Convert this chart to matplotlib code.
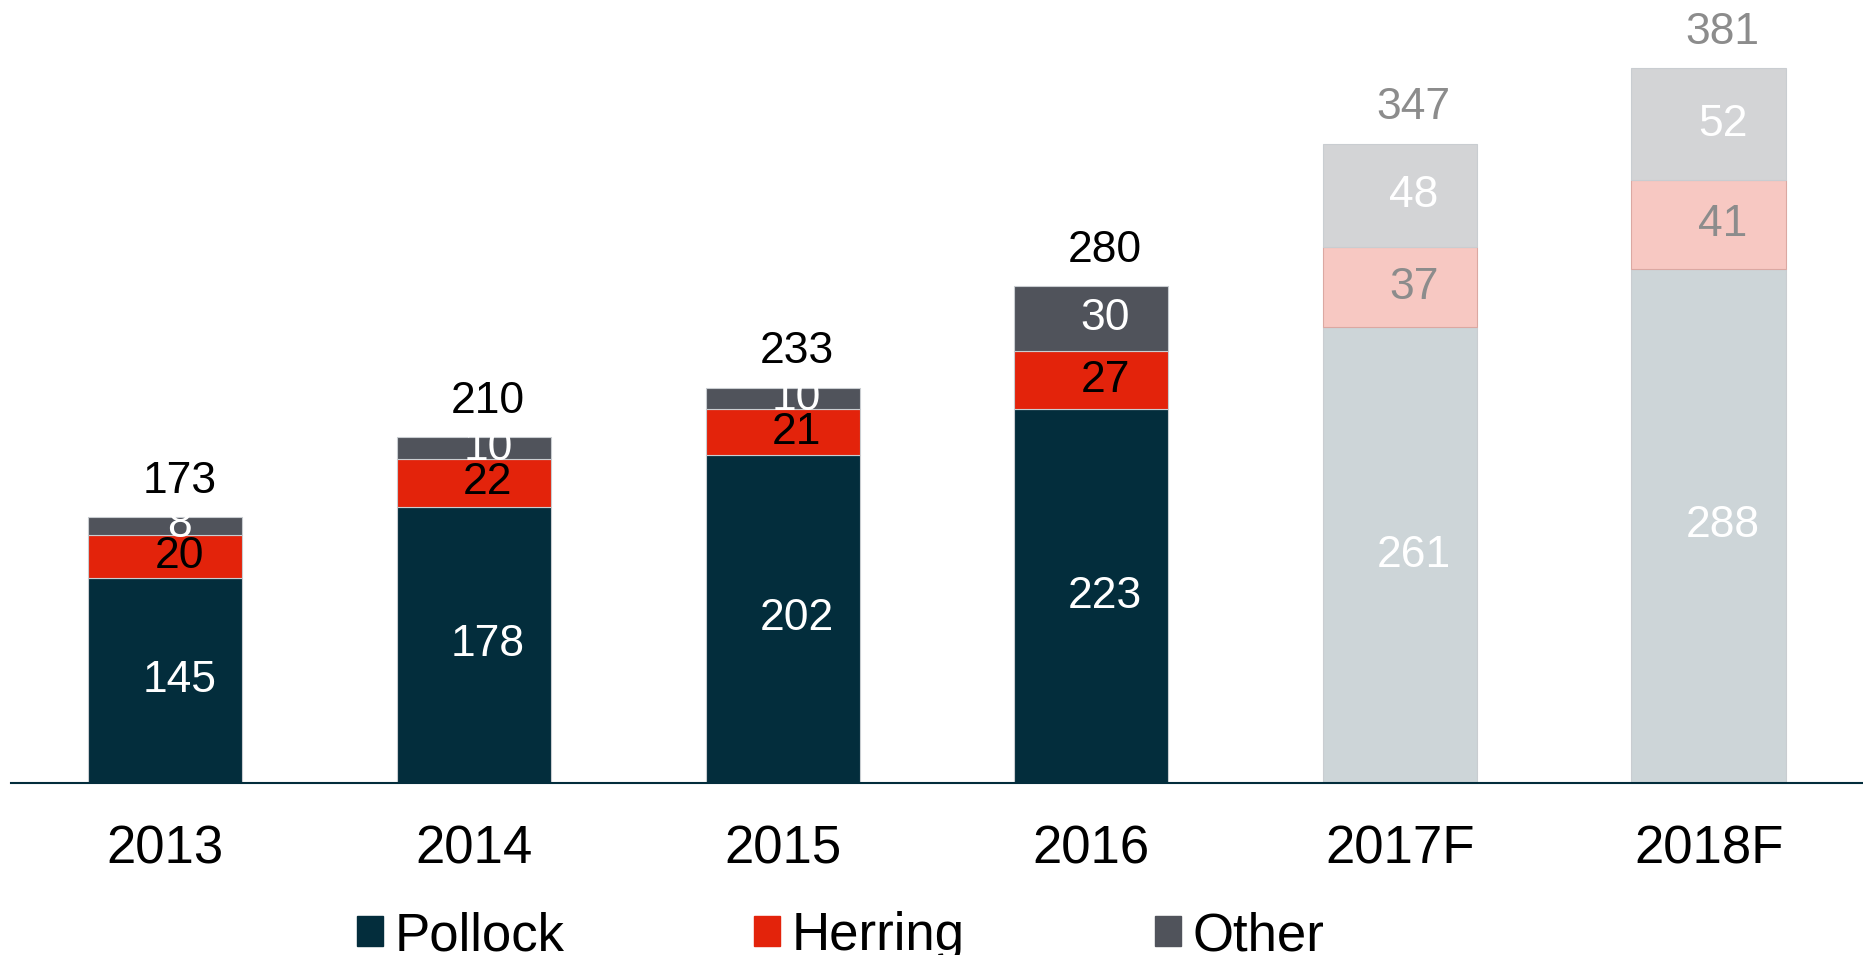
import matplotlib.pyplot as plt
from matplotlib.patches import Patch

plt.rcParams['font.family'] = ['Liberation Sans', 'DejaVu Sans']

YEARS = ['2013', '2014', '2015', '2016', '2017F', '2018F']
POLLOCK = [145, 178, 202, 223, 261, 288]
HERRING = [20, 22, 21, 27, 37, 41]
OTHER = [8, 10, 10, 30, 48, 52]
TOTALS = [173, 210, 233, 280, 347, 381]
FORECAST = [False, False, False, False, True, True]

# actual / forecast colours
POLLOCK_COL = ('#032d3c', '#cdd5d8')
HERRING_COL = ('#e3230b', '#f7c8c2')
OTHER_COL = ('#50535b', '#d3d4d6')
EDGE_COL = ('#c9cdd1', '#dba8a2')
GREY_TXT = '#8c8c8c'

Y_MIN = 50  # value axis does not start at zero in the original


def main():
    fig = plt.figure(figsize=(18.63, 9.55), dpi=100)
    ax = fig.add_axes([11 / 1863, 1 - 783 / 955, 1 - 11 / 1863, 783 / 955])

    x = list(range(len(YEARS)))
    bottom_h = [p + h for p, h in zip(POLLOCK, HERRING)]
    for i in x:
        f = 1 if FORECAST[i] else 0
        ax.bar(i, POLLOCK[i], 0.5, color=POLLOCK_COL[f], edgecolor=EDGE_COL[0], linewidth=0.8)
        ax.bar(i, HERRING[i], 0.5, bottom=POLLOCK[i], color=HERRING_COL[f],
               edgecolor=EDGE_COL[f], linewidth=0.8)
        ax.bar(i, OTHER[i], 0.5, bottom=bottom_h[i], color=OTHER_COL[f],
               edgecolor=EDGE_COL[0], linewidth=0.8)

        dx = 0.045
        fs = 32
        # pollock label centred on the visible part of the segment
        ax.text(i + dx, (Y_MIN + POLLOCK[i]) / 2, str(POLLOCK[i]), ha='center', va='center',
                fontsize=fs, color='white')
        ax.text(i + dx, POLLOCK[i] + HERRING[i] / 2, str(HERRING[i]), ha='center', va='center',
                fontsize=fs, color=GREY_TXT if FORECAST[i] else 'black')
        ax.text(i + dx, bottom_h[i] + OTHER[i] / 2, str(OTHER[i]), ha='center', va='center',
                fontsize=fs, color='white')
        ax.annotate(str(TOTALS[i]), (i + dx, bottom_h[i] + OTHER[i]), xytext=(0, 17.5),
                    textcoords='offset points', ha='center', va='baseline',
                    fontsize=fs, color=GREY_TXT if FORECAST[i] else 'black')

    ax.set_xlim(-0.5, 5.5)
    ax.set_ylim(Y_MIN, 412.5)
    ax.set_xticks(x)
    ax.set_xticklabels(YEARS, fontsize=38)
    ax.tick_params(axis='x', length=0, pad=30)
    ax.set_yticks([])
    for s in ['top', 'left', 'right']:
        ax.spines[s].set_visible(False)
    ax.spines['bottom'].set_color('#032d3c')
    ax.spines['bottom'].set_linewidth(1.5)

    handles = [Patch(color=POLLOCK_COL[0], label='Pollock'),
               Patch(color=HERRING_COL[0], label='Herring'),
               Patch(color=OTHER_COL[0], label='Other')]
    fig.legend(handles=handles, loc='center left', bbox_to_anchor=(357 / 1863, 1 - 936 / 955),
               ncol=3, frameon=False, fontsize=38, borderpad=0, borderaxespad=0,
               handlelength=0.49, handleheight=0.49, handletextpad=0.22, columnspacing=3.6)

    fig.savefig('out.png', dpi=100)


if __name__ == "__main__":
    main()
